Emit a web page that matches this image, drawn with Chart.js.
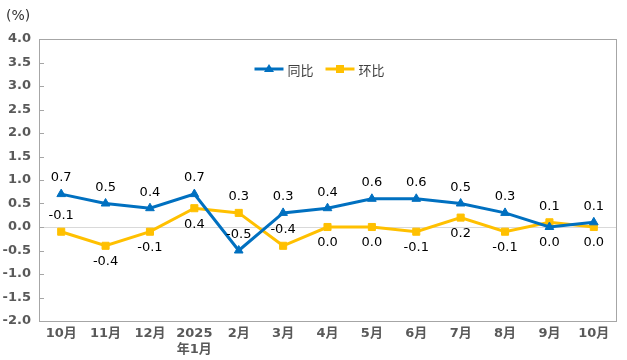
<!DOCTYPE html>
<html>
<head>
<meta charset="utf-8">
<script src="https://cdn.jsdelivr.net/npm/chart.js@4.4.1/dist/chart.umd.min.js"></script>
<style>
  html, body { margin: 0; padding: 0; background: #fff; }
  #wrap { position: relative; width: 627px; height: 360px; }
</style>
</head>
<body>
<div id="wrap"><canvas id="cpiChart" width="627" height="360"></canvas></div>
<script>
// --- DATA ---
const months = [['10月'], ['11月'], ['12月'], ['2025', '年1月'], ['2月'], ['3月'], ['4月'], ['5月'], ['6月'], ['7月'], ['8月'], ['9月'], ['10月']];
const yoyValues = [0.7, 0.5, 0.4, 0.7, -0.5, 0.3, 0.4, 0.6, 0.6, 0.5, 0.3, 0.0, 0.1];
const momValues = [-0.1, -0.4, -0.1, 0.4, 0.3, -0.4, 0.0, 0.0, -0.1, 0.2, -0.1, 0.1, 0.0];
const seriesNames = ['同比', '环比'];
const yTickMin = -2.0;
const yTickMax = 4.0;
const yTickStep = 0.5;

// --- STYLE ---
const BLUE = '#0070C0';
const ORANGE = '#FFC000';
const AXIS_GRAY = '#A6A6A6';
const TICK_TEXT = '#595959';
// label side per point: 1 = above, -1 = below
const yoyLabelSide = [1, 1, 1, 1, 1, 1, 1, 1, 1, 1, 1, -1, 1];
const momLabelSide = [1, -1, -1, -1, 1, 1, -1, -1, -1, -1, -1, 1, -1];

// frame, inward y ticks, point labels and legend
const decorPlugin = {
    id: 'decor',
    beforeDatasetsDraw(chart) {
        const { ctx, chartArea: a, scales } = chart;
        ctx.save();
        ctx.strokeStyle = AXIS_GRAY;
        ctx.lineWidth = 1;
        ctx.strokeRect(Math.round(a.left) + 0.5, Math.round(a.top) + 0.5,
            Math.round(a.right - a.left), Math.round(a.bottom - a.top));
        scales.y.ticks.forEach(t => {
            const y = Math.round(scales.y.getPixelForValue(t.value)) + 0.5;
            ctx.beginPath();
            ctx.moveTo(a.left, y);
            ctx.lineTo(a.left + 5, y);
            ctx.stroke();
        });
        ctx.restore();
    },
    afterDatasetsDraw(chart) {
        const { ctx } = chart;
        const sides = [yoyLabelSide, momLabelSide];
        ctx.save();
        ctx.font = '13px "DejaVu Sans", sans-serif';
        ctx.fillStyle = '#000';
        ctx.textAlign = 'center';
        ctx.textBaseline = 'middle';
        chart.data.datasets.forEach((ds, i) => {
            chart.getDatasetMeta(i).data.forEach((pt, j) => {
                const y = pt.y - sides[i][j] * 16;
                ctx.fillText(ds.data[j].toFixed(1), pt.x, y);
            });
        });

        // legend
        const cx = chart.chartArea.left + (chart.chartArea.right - chart.chartArea.left) / 2;
        const ly = 69;
        const items = [
            { x: cx - 73, color: BLUE, marker: 'triangle', text: seriesNames[0] },
            { x: cx - 2, color: ORANGE, marker: 'square', text: seriesNames[1] }
        ];
        ctx.font = '13px "Noto Sans CJK SC", sans-serif';
        ctx.textAlign = 'left';
        items.forEach(it => {
            ctx.strokeStyle = it.color;
            ctx.fillStyle = it.color;
            ctx.lineWidth = 3;
            ctx.beginPath();
            ctx.moveTo(it.x, ly);
            ctx.lineTo(it.x + 29, ly);
            ctx.stroke();
            const mx = it.x + 14.5;
            ctx.beginPath();
            if (it.marker === 'triangle') {
                ctx.moveTo(mx, ly - 5);
                ctx.lineTo(mx + 5, ly + 3);
                ctx.lineTo(mx - 5, ly + 3);
                ctx.closePath();
                ctx.fill();
            } else {
                ctx.fillRect(mx - 4, ly - 4, 8, 8);
            }
            ctx.fillStyle = '#404040';
            ctx.fillText(it.text, it.x + 33, ly + 1);
        });

        // unit
        ctx.font = '14px "DejaVu Sans", sans-serif';
        ctx.fillStyle = '#333';
        ctx.textAlign = 'left';
        ctx.fillText('(%)', 6, 16);
        ctx.restore();
    }
};

new Chart(document.getElementById('cpiChart'), {
    type: 'line',
    data: {
        labels: months,
        datasets: [
            {
                label: seriesNames[0],
                data: yoyValues,
                borderColor: BLUE,
                backgroundColor: BLUE,
                borderWidth: 3,
                pointStyle: 'triangle',
                pointRadius: 5,
                pointBorderWidth: 1,
                tension: 0
            },
            {
                label: seriesNames[1],
                data: momValues,
                borderColor: ORANGE,
                backgroundColor: ORANGE,
                borderWidth: 3,
                pointStyle: 'rect',
                pointRadius: 5,
                pointBorderWidth: 1,
                tension: 0
            }
        ]
    },
    options: {
        responsive: false,
        animation: false,
        layout: { padding: { top: 39, right: 11, bottom: 0, left: 0 } },
        plugins: {
            legend: { display: false },
            tooltip: { enabled: false }
        },
        scales: {
            x: {
                offset: true,
                grid: { display: false, drawTicks: false },
                border: { display: true, color: AXIS_GRAY },
                ticks: {
                    color: TICK_TEXT,
                    font: { family: '"DejaVu Sans", "Noto Sans CJK SC", sans-serif', size: 13, weight: 'bold', lineHeight: 1.2 },
                    padding: 5,
                    maxRotation: 0,
                    autoSkip: false
                },
                afterFit: scale => { scale.height = 39; }
            },
            y: {
                min: yTickMin,
                max: yTickMax,
                grid: {
                    drawTicks: false,
                    color: ctx => (ctx.tick && ctx.tick.value === 0 ? '#D9D9D9' : 'rgba(0,0,0,0)')
                },
                border: { display: true, color: AXIS_GRAY },
                ticks: {
                    stepSize: yTickStep,
                    color: TICK_TEXT,
                    padding: 8,
                    font: { family: '"DejaVu Sans", sans-serif', size: 13, weight: 'bold' },
                    callback: v => v.toFixed(1)
                },
                afterFit: scale => { scale.width = 39; }
            }
        }
    },
    plugins: [decorPlugin]
});
</script>
</body>
</html>
